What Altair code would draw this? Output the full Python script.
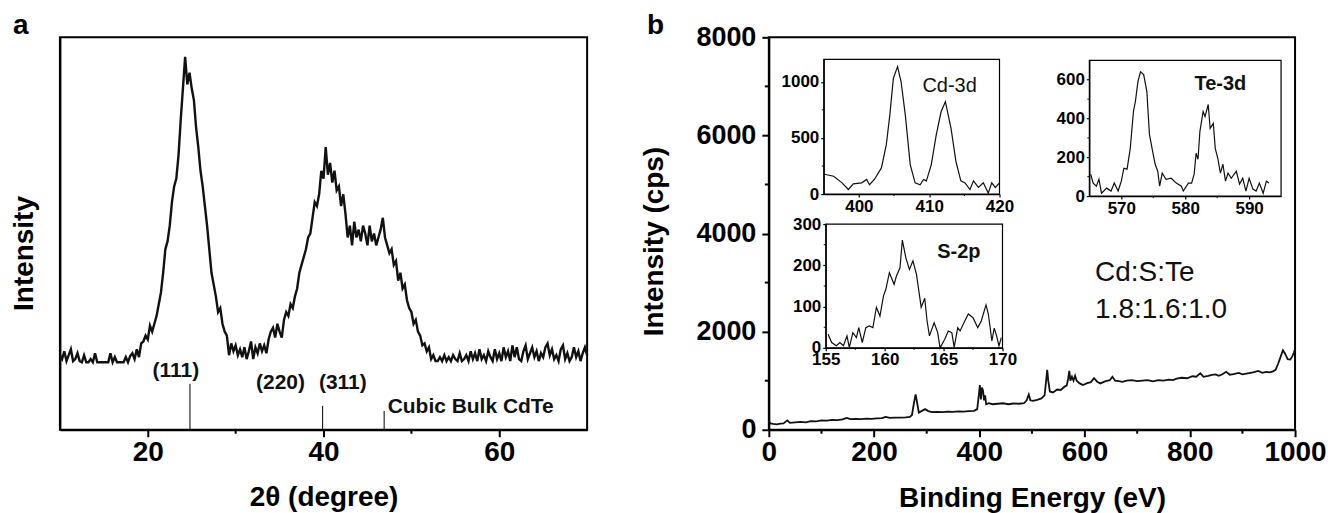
import altair as alt
import pandas as pd

FONT = "Liberation Sans"

# ---------------- Panel a : XRD ----------------
XRD_2THETA = [
    10.0, 10.25, 10.5, 10.75, 11.0, 11.25, 11.5, 11.75,
    12.0, 12.25, 12.5, 12.75, 13.0, 13.25, 13.5, 13.75,
    14.0, 14.25, 14.5, 14.75, 15.0, 15.25, 15.5, 15.75,
    16.0, 16.25, 16.5, 16.75, 17.0, 17.25, 17.5, 17.75,
    18.0, 18.25, 18.5, 18.75, 19.0, 19.25, 19.5, 19.75,
    20.0, 20.25, 20.5, 20.75, 21.0, 21.25, 21.5, 21.75,
    22.0, 22.25, 22.5, 22.75, 23.0, 23.25, 23.5, 23.75,
    24.0, 24.25, 24.5, 24.75, 25.0, 25.25, 25.5, 25.75,
    26.0, 26.25, 26.5, 26.75, 27.0, 27.25, 27.5, 27.75,
    28.0, 28.25, 28.5, 28.75, 29.0, 29.25, 29.5, 29.75,
    30.0, 30.25, 30.5, 30.75, 31.0, 31.25, 31.5, 31.75,
    32.0, 32.25, 32.5, 32.75, 33.0, 33.25, 33.5, 33.75,
    34.0, 34.25, 34.5, 34.75, 35.0, 35.25, 35.5, 35.75,
    36.0, 36.25, 36.5, 36.75, 37.0, 37.25, 37.5, 37.75,
    38.0, 38.25, 38.5, 38.75, 39.0, 39.25, 39.5, 39.75,
    40.0, 40.25, 40.5, 40.75, 41.0, 41.25, 41.5, 41.75,
    42.0, 42.25, 42.5, 42.75, 43.0, 43.25, 43.5, 43.75,
    44.0, 44.25, 44.5, 44.75, 45.0, 45.25, 45.5, 45.75,
    46.0, 46.25, 46.5, 46.75, 47.0, 47.25, 47.5, 47.75,
    48.0, 48.25, 48.5, 48.75, 49.0, 49.25, 49.5, 49.75,
    50.0, 50.25, 50.5, 50.75, 51.0, 51.25, 51.5, 51.75,
    52.0, 52.25, 52.5, 52.75, 53.0, 53.25, 53.5, 53.75,
    54.0, 54.25, 54.5, 54.75, 55.0, 55.25, 55.5, 55.75,
    56.0, 56.25, 56.5, 56.75, 57.0, 57.25, 57.5, 57.75,
    58.0, 58.25, 58.5, 58.75, 59.0, 59.25, 59.5, 59.75,
    60.0, 60.25, 60.5, 60.75, 61.0, 61.25, 61.5, 61.75,
    62.0, 62.25, 62.5, 62.75, 63.0, 63.25, 63.5, 63.75,
    64.0, 64.25, 64.5, 64.75, 65.0, 65.25, 65.5, 65.75,
    66.0, 66.25, 66.5, 66.75, 67.0, 67.25, 67.5, 67.75,
    68.0, 68.25, 68.5, 68.75, 69.0, 69.25, 69.5, 69.75,
    70.0,
]
XRD_INT = [
    19, 18, 20, 17.5, 19, 20.5, 17.5, 18,
    19.5, 17.5, 17.2, 19, 17.2, 17.2, 18, 17.2,
    19.5, 17.2, 17.2, 17.2, 17.2, 17.2, 17.2, 19.5,
    17.2, 18.5, 17.2, 17.2, 17.2, 17.2, 18.5, 17.2,
    18.8, 19.5, 18, 20.5, 18.5, 22, 22.5, 24,
    23, 26.5, 25, 27, 29, 32, 35, 40,
    46, 48, 52, 58, 62, 64, 70, 79,
    87, 95, 88, 91, 87, 84, 77, 72,
    66, 62, 57, 52, 46, 40, 37, 34,
    30, 31, 27, 25, 24, 19, 22, 20,
    21.5, 19, 20.5, 18.5, 21, 18, 20, 22.5,
    18, 21, 19.5, 22, 20, 21.5, 19.5, 23,
    25, 26, 23.5, 27, 25, 23.5, 28, 30,
    29, 32, 31, 34, 36, 40, 42, 44,
    46, 49, 50, 54, 58, 57, 60, 66,
    64, 72, 65, 68, 63, 66, 61, 62,
    57, 60, 55, 49, 52, 47, 53, 49,
    51, 48, 52, 50, 47, 52, 48, 50,
    47, 49, 51, 54, 49, 47, 45, 46,
    42, 43, 38, 40, 36, 37, 33, 31,
    30, 27, 28, 25, 24, 21.5, 22, 20,
    21, 18, 19, 17.5, 17.5, 18.5, 17.5, 19,
    17.5, 18.5, 17.5, 19, 18, 17.5, 19.5, 17.5,
    18, 19, 17.5, 20, 18, 19.5, 17.5, 20.5,
    18, 19, 17.5, 20, 18.5, 17.5, 20.5, 18,
    19.5, 17.5, 21, 18.5, 20, 17.5, 21.5, 18.5,
    21, 18, 17.5, 20, 21.5, 18, 19.5, 21,
    18.5, 20, 17.5, 19.5, 18.5, 21, 22, 19,
    20.5, 18, 19, 17.5, 20.5, 21.5, 18, 19.5,
    17.5, 18.5, 21, 18.5, 20, 17.5, 19.5, 21,
    19,
]
XRD_TICKS = [20, 40, 60]
XRD_MINOR = [30, 50]
HKL_POS = [24.8, 39.9, 46.9]
HKL_TOP = [11.7, 6.1, 4.8]
HKL_LABELS = ["(111)", "(220)", "(311)"]
HKL_LABEL_X = [23.2, 35.1, 42.2]
HKL_LABEL_Y = [15.0, 12.0, 12.0]
REF_LABEL = ["Cubic Bulk CdTe"]
REF_LABEL_X = [47.3]
REF_LABEL_Y = [5.9]

# ---------------- Panel b : XPS survey ----------------
XPS_E = [
    0, 3, 8, 15, 22, 28, 35, 40, 50, 60,
    70, 80, 90, 100, 110, 120, 130, 140, 148, 155,
    165, 175, 185, 195, 205, 215, 222, 230, 240, 250,
    260, 268, 272, 276, 279, 282, 285, 290, 297, 303,
    310, 320, 330, 340, 350, 360, 370, 380, 390, 396,
    399, 401, 403, 405, 407, 409, 411, 413, 418, 425,
    435, 445, 455, 465, 475, 485, 490, 494, 497, 502,
    510, 518, 524, 527, 529, 531, 534, 540, 548, 555,
    562, 566, 569, 571, 573, 576, 579, 582, 585, 590,
    597, 605, 612, 618, 624, 630, 640, 648, 653, 658,
    665, 672, 680, 690, 700, 710, 720, 730, 740, 750,
    760, 768, 775, 785, 795, 805, 812, 820, 826, 835,
    842, 849, 855, 862, 869, 876, 885, 893, 900, 910,
    920, 930, 938, 945, 952, 958, 963, 968, 973, 977,
    981, 986, 991, 995, 998, 1000,
]
XPS_I = [
    180, 130, 120, 110, 125, 130, 190, 140, 150, 160,
    150, 175, 170, 190, 185, 200, 195, 210, 240, 215,
    220, 215, 225, 220, 230, 235, 260, 240, 245, 245,
    250, 260, 300, 560, 720, 540, 350, 380, 420, 380,
    360, 365, 360, 370, 365, 375, 370, 380, 385, 420,
    700, 910, 620, 860, 800, 600, 700, 520, 540, 520,
    530, 540, 520, 535, 530, 540, 600, 720, 600, 590,
    610, 640, 700, 1000, 1220, 1000, 780, 760, 820, 810,
    880, 900, 1050, 1200, 1000, 1080, 1000, 1100, 1000, 950,
    910, 950, 970, 1050, 980, 945, 990, 1010, 1080, 1000,
    990, 975, 1000, 1010, 990, 1000, 1010, 985, 1010, 1000,
    1020, 1010, 1040, 1060, 1050, 1090, 1080, 1150, 1080, 1100,
    1120, 1130, 1100, 1130, 1180, 1120, 1140, 1160, 1130, 1150,
    1170, 1200, 1160, 1180, 1170, 1190, 1220, 1350, 1500, 1620,
    1550, 1440, 1430, 1500, 1580, 1650,
]
XPS_XTICKS = [0, 200, 400, 600, 800, 1000]
XPS_XMINOR = [100, 300, 500, 700, 900]
XPS_YTICKS = [0, 2000, 4000, 6000, 8000]
XPS_YMINOR = [1000, 3000, 5000, 7000]
RATIO_TEXT = ["Cd:S:Te", "1.8:1.6:1.0"]
RATIO_X = [620, 620]
RATIO_Y = [3196, 2443]

# Cd-3d inset
CD_E = [395.1, 396.4, 397.6, 398.5, 399.2, 400.4, 401.1, 401.5, 402.2, 403.2,
        403.9, 404.4, 404.9, 405.5, 406.0, 406.6, 407.3, 408.0, 408.7, 409.2,
        409.6, 410.3, 411.0, 411.7, 412.3, 413.1, 413.8, 414.5, 415.1, 415.8,
        416.3, 417.0, 417.7, 418.4, 418.9, 419.4, 420.0]
CD_I = [177, 159, 100, 41, 91, 100, 130, 83, 130, 233,
        440, 705, 1030, 1135, 1000, 705, 263, 100, 83, 130,
        118, 263, 528, 735, 823, 587, 292, 118, 100, 41,
        118, 59, 100, 9, 100, 59, 100]
# Te-3d inset
TE_E = [565.2, 565.6, 566.1, 566.5, 566.9, 567.7, 568.4, 568.9, 569.5, 570.0,
        570.4, 570.9, 571.4, 571.9, 572.2, 572.6, 573.0, 573.5, 574.0, 574.4,
        574.9, 575.3, 575.7, 576.0, 576.4, 577.0, 577.8, 578.6, 579.4, 579.7,
        580.5, 581.0, 581.4, 581.7, 582.0, 582.3, 582.8, 583.1, 583.6, 583.9,
        584.4, 584.7, 585.1, 585.5, 585.9, 586.3, 586.7, 587.2, 588.0, 588.5,
        589.0, 589.5, 590.0, 590.6, 591.1, 591.6, 592.2, 592.7, 593.1]
TE_I = [113, 67, 51, 87, 15, 41, 26, 67, 26, 77,
        144, 139, 246, 436, 487, 590, 641, 626, 539, 318,
        231, 164, 128, 51, 118, 87, 92, 67, 51, 26,
        67, 67, 113, 221, 190, 334, 436, 410, 472, 349,
        375, 246, 195, 118, 164, 77, 118, 92, 128, 62,
        92, 26, 92, 36, 26, 67, 15, 77, 67]
# S-2p inset
S_E = [155.2, 155.5, 155.9, 156.2, 156.5, 156.8, 157.0, 157.3, 157.6, 157.8,
       158.1, 158.4, 158.7, 159.0, 159.2, 159.3, 159.6, 159.9, 160.1, 160.4,
       160.8, 161.0, 161.3, 161.5, 161.8, 162.1, 162.4, 162.7, 162.9, 163.1,
       163.4, 163.6, 163.8, 164.2, 164.5, 164.7, 165.1, 165.4, 165.7, 165.9,
       166.2, 166.4, 166.8, 167.1, 167.5, 167.9, 168.2, 168.6, 168.8, 169.1,
       169.3, 169.5, 169.7, 169.9]
S_I = [33, 13, 5, 13, 5, 29, 1, 37, 25, 49,
       13, 49, 53, 49, 82, 98, 77, 126, 142, 182,
       154, 174, 194, 261, 218, 190, 211, 178, 138, 98,
       120, 65, 29, 61, 37, 0, 21, 41, 37, 1,
       49, 41, 65, 82, 73, 49, 65, 104, 82, 17,
       48, 29, 5, 25]

# ---------------- layout constants ----------------
W_A, H_A = 528, 393
W_B, H_B = 527, 393

AX_STYLE = dict(grid=False, domainColor="black", tickColor="black", labelColor="black",
                titleColor="black", labelFont=FONT, titleFont=FONT, format="d",
                labelFontWeight="bold", titleFontWeight="bold", labelFlush=False)

# ====== panel a ======
xs_a = alt.Scale(domain=[10, 70], nice=False, zero=False)
ys_a = alt.Scale(domain=[0, 100], nice=False, zero=False)
ax_ax = alt.Axis(values=XRD_TICKS, title="2θ (degree)", tickSize=7, tickWidth=2, domainWidth=2,
                 labelFontSize=28, labelPadding=2, titleFontSize=28, titleY=76,
                 titleBaseline="alphabetic", **AX_STYLE)
ax_ay = alt.Axis(labels=False, ticks=False, domainWidth=2, title="Intensity", titleFontSize=28,
                 titleX=-35, titleY=216, titleBaseline="middle", **AX_STYLE)


def XA(f):
    return alt.X(f, scale=xs_a, axis=ax_ax)


def YA(f):
    return alt.Y(f, scale=ys_a, axis=ax_ay)


xrd_df = pd.DataFrame({"x": XRD_2THETA, "y": XRD_INT})
line_a = alt.Chart(xrd_df).mark_line(color="#111111", strokeWidth=2.4).encode(
    x=XA("x:Q"), y=YA("y:Q"))
hkl_df = pd.DataFrame({"x": HKL_POS, "y": HKL_TOP})
rules_a = alt.Chart(hkl_df).mark_rule(color="black", strokeWidth=1).encode(
    x=XA("x:Q"), y=YA("y:Q"), y2=alt.datum(0))
hkl_lab_df = pd.DataFrame({"x": HKL_LABEL_X, "y": HKL_LABEL_Y, "t": HKL_LABELS})
hkl_text = alt.Chart(hkl_lab_df).mark_text(font=FONT, fontSize=21, fontWeight="bold",
                                            color="#111111", baseline="middle").encode(
    x=XA("x:Q"), y=YA("y:Q"), text="t:N")
ref_df = pd.DataFrame({"x": REF_LABEL_X, "y": REF_LABEL_Y, "t": REF_LABEL})
ref_text = alt.Chart(ref_df).mark_text(font=FONT, fontSize=21, fontWeight="bold",
                                        color="#111111", align="left", baseline="middle").encode(
    x=XA("x:Q"), y=YA("y:Q"), text="t:N")
minor_a = alt.Chart(pd.DataFrame({"x": XRD_MINOR})).mark_rule(color="black", strokeWidth=2).encode(
    x=XA("x:Q"), y=alt.value(H_A), y2=alt.value(H_A + 4))
lab_a = alt.Chart(pd.DataFrame({"t": ["a"]})).mark_text(
    font=FONT, fontSize=28, fontWeight="bold", color="black", align="left",
    baseline="alphabetic").encode(x=alt.value(-47), y=alt.value(-3), text="t:N")

panel_a = alt.layer(line_a, rules_a, hkl_text, ref_text, minor_a, lab_a).properties(
    width=W_A, height=H_A)

# ====== panel b ======
xs_b = alt.Scale(domain=[0, 1000], nice=False, zero=False)
ys_b = alt.Scale(domain=[0, 8000], nice=False, zero=False)
ax_bx = alt.Axis(orient="bottom", values=XPS_XTICKS, title="Binding Energy (eV)", tickSize=7,
                 tickWidth=2, domainWidth=2, labelFontSize=28, labelPadding=2, titleFontSize=28,
                 titleY=77, titleBaseline="alphabetic", **AX_STYLE)
ax_by = alt.Axis(orient="left", values=XPS_YTICKS, title="Intensity (cps)", tickSize=7,
                 tickWidth=2, domainWidth=2, labelFontSize=27, labelPadding=6, titleFontSize=28,
                 titleX=-115, titleY=204, titleBaseline="middle", **AX_STYLE)


def XB(f):
    return alt.X(f, scale=xs_b, axis=ax_bx)


def YB(f):
    return alt.Y(f, scale=ys_b, axis=ax_by)


xps_df = pd.DataFrame({"x": XPS_E, "y": XPS_I})
line_b = alt.Chart(xps_df).mark_line(color="#111111", strokeWidth=1.8).encode(
    x=XB("x:Q"), y=YB("y:Q"))
minor_bx = alt.Chart(pd.DataFrame({"x": XPS_XMINOR})).mark_rule(color="black", strokeWidth=2).encode(
    x=XB("x:Q"), y=alt.value(H_B), y2=alt.value(H_B + 4))
minor_by = alt.Chart(pd.DataFrame({"y": XPS_YMINOR})).mark_rule(color="black", strokeWidth=2).encode(
    y=YB("y:Q"), x=alt.value(0), x2=alt.value(-4))
ratio_df = pd.DataFrame({"x": RATIO_X, "y": RATIO_Y, "t": RATIO_TEXT})
ratio_text = alt.Chart(ratio_df).mark_text(font=FONT, fontSize=28, color="#111111",
                                            align="left", baseline="middle").encode(
    x=XB("x:Q"), y=YB("y:Q"), text="t:N")
lab_b = alt.Chart(pd.DataFrame({"t": ["b"]})).mark_text(
    font=FONT, fontSize=28, fontWeight="bold", color="black", align="left",
    baseline="alphabetic").encode(x=alt.value(-122), y=alt.value(-3), text="t:N")

main_b = alt.layer(line_b, minor_bx, minor_by, ratio_text, lab_b)


def inset(xv, yv, xdom, ydom, xticks, yticks, xminor, yminor, box, label, lx, ly, bold):
    left, right, top, bottom = box
    xs = alt.Scale(domain=xdom, range=[left, right], nice=False, zero=False)
    ys = alt.Scale(domain=ydom, range=[bottom, top], nice=False, zero=False)
    xaxis = alt.Axis(orient="bottom", offset=-(H_B - bottom), values=xticks, title=None,
                     tickSize=3, tickWidth=1.2, domainWidth=1.2, labelFontSize=17,
                     labelPadding=1, **AX_STYLE)
    yaxis = alt.Axis(orient="left", offset=-left, values=yticks, title=None,
                     tickSize=3, tickWidth=1.2, domainWidth=1.2, labelFontSize=17,
                     labelPadding=2, **AX_STYLE)

    def XI(f):
        return alt.X(f, scale=xs, axis=xaxis)

    def YI(f):
        return alt.Y(f, scale=ys, axis=yaxis)

    df = pd.DataFrame({"x": xv, "y": yv})
    ln = alt.Chart(df).mark_line(color="#111111", strokeWidth=1.2).encode(
        x=XI("x:Q"), y=YI("y:Q"))
    fr_df = pd.DataFrame({"x": [xdom[0]], "x2": [xdom[1]], "y": [ydom[0]], "y2": [ydom[1]]})
    fr = alt.Chart(fr_df).mark_rect(fillOpacity=0, stroke="black", strokeWidth=1.2).encode(
        x=XI("x:Q"), x2="x2:Q", y=YI("y:Q"), y2="y2:Q")
    mx = alt.Chart(pd.DataFrame({"x": xminor})).mark_rule(color="black", strokeWidth=1).encode(
        x=XI("x:Q"), y=alt.value(bottom), y2=alt.value(bottom + 2))
    my = alt.Chart(pd.DataFrame({"y": yminor})).mark_rule(color="black", strokeWidth=1).encode(
        y=YI("y:Q"), x=alt.value(left), x2=alt.value(left - 2))
    tx = alt.Chart(pd.DataFrame({"x": [lx], "y": [ly], "t": [label]})).mark_text(
        font=FONT, fontSize=20, fontWeight="bold" if bold else "normal", color="#111111",
        baseline="middle").encode(x=XI("x:Q"), y=YI("y:Q"), text="t:N")
    return alt.layer(ln, fr, mx, my, tx)


cd = inset(CD_E, CD_I, [395, 420], [0, 1200], [400, 410, 420], [0, 500, 1000],
           [405, 415], [250, 750], (55, 231, 22, 157), "Cd-3d", 412.9, 965, False)
te = inset(TE_E, TE_I, [565, 595], [0, 700], [570, 580, 590], [0, 200, 400, 600],
           [575, 585], [100, 300, 500], (321, 513, 23, 159), "Te-3d", 585.5, 580, True)
s2 = inset(S_E, S_I, [155, 170], [0, 300], [155, 160, 165, 170], [0, 100, 200, 300],
           [157.5, 162.5, 167.5], [50, 150, 250], (57, 234, 187, 311), "S-2p", 166.3, 232, True)

panel_b = alt.layer(main_b, cd, te, s2).resolve_scale(
    x="independent", y="independent").properties(width=W_B, height=H_B)

chart = alt.hconcat(panel_a, panel_b, spacing=182, bounds="flush").properties(
    padding={"left": 10, "top": 11, "right": 0, "bottom": 0}
).configure(background="white").configure_view(stroke="black", strokeWidth=2)

chart.save("out.html", embed_options={"renderer": "svg", "actions": False})
